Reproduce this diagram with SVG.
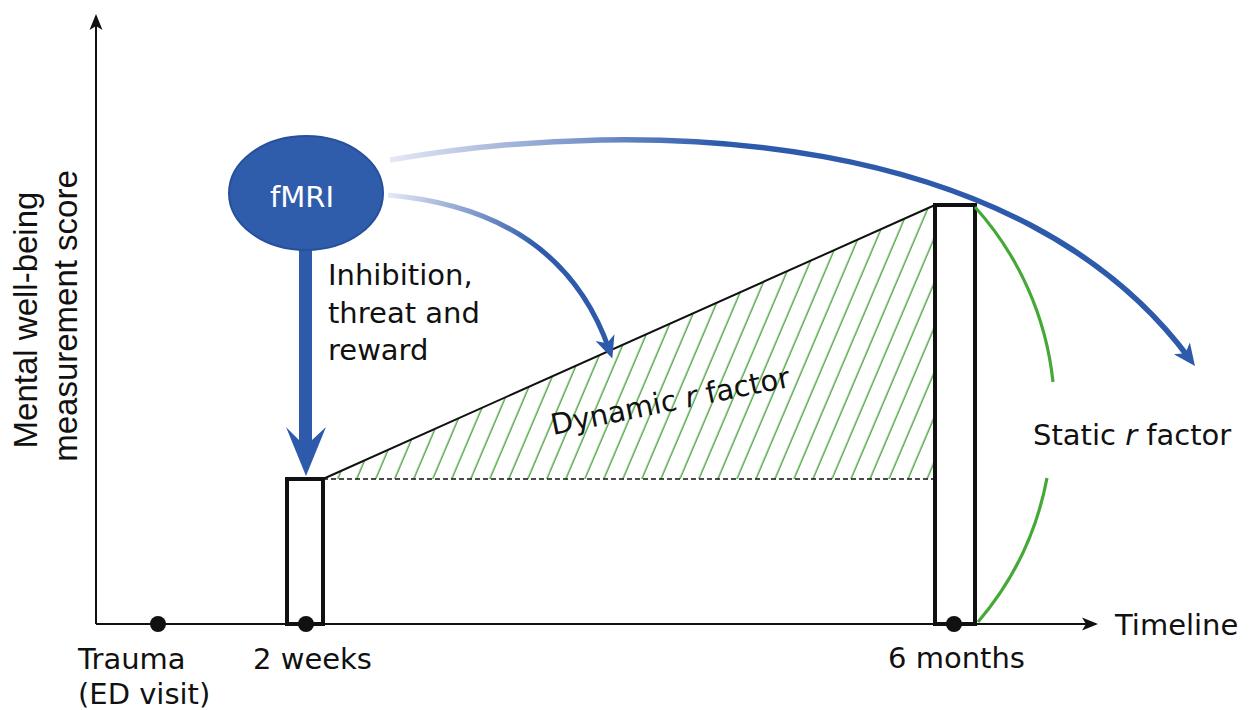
<svg xmlns="http://www.w3.org/2000/svg" width="1250" height="710" viewBox="0 0 1250 710">
<style>
.ax{stroke:#111;stroke-width:2;fill:none}
.bar{stroke:#111;stroke-width:4;fill:#fff}
.lbl{font-family:"DejaVu Sans",sans-serif;font-size:29px;fill:#111}
.ylbl{font-family:"Liberation Sans",Arial,sans-serif;font-size:33px;fill:#111}
.green{stroke:#45a837;stroke-width:3.2;fill:none}
.dot{fill:#111}
</style>
<defs>
<marker id="axhead" markerUnits="userSpaceOnUse" markerWidth="20" markerHeight="16" viewBox="-16 -8 20 16" refX="0" refY="0" orient="auto">
<path d="M2,0 L-14,-6.5 L-10,0 L-14,6.5 Z" fill="#111"/>
</marker>
<marker id="bhead" markerUnits="userSpaceOnUse" markerWidth="40" markerHeight="30" viewBox="-20 -15 40 30" refX="0" refY="0" orient="auto">
<path d="M10,0 L-12,-10 L-6,0 L-12,10 Z" fill="#2e5aab"/>
</marker>
<linearGradient id="g1" gradientUnits="userSpaceOnUse" x1="390" y1="0" x2="720" y2="0">
<stop offset="0" stop-color="#e6e9f5"/>
<stop offset="1" stop-color="#2e5aab"/>
</linearGradient>
<linearGradient id="g2" gradientUnits="userSpaceOnUse" x1="388" y1="195" x2="540" y2="240">
<stop offset="0" stop-color="#e6e9f5"/>
<stop offset="1" stop-color="#2e5aab"/>
</linearGradient>
<pattern id="hatch" patternUnits="userSpaceOnUse" width="17.5" height="40" patternTransform="rotate(23)">
<line x1="8" y1="-1" x2="8" y2="41" stroke="#3f9c33" stroke-width="1.3"/>
</pattern>
<clipPath id="tri"><polygon points="323,479 935,205 935,479"/></clipPath>
</defs>

<g id="axes">
<line class="ax" x1="96" y1="624" x2="96" y2="16" marker-end="url(#axhead)"/>
<line class="ax" x1="96" y1="624" x2="1096" y2="624" marker-end="url(#axhead)"/>
</g>

<g id="dynamic-area">
<rect x="323" y="200" width="615" height="280" fill="url(#hatch)" clip-path="url(#tri)"/>
<line x1="323" y1="479" x2="933" y2="479" stroke="#111" stroke-width="1.6" stroke-dasharray="5 3"/>
<line x1="323" y1="479" x2="935" y2="205" stroke="#111" stroke-width="2"/>
</g>

<g id="bar-2weeks"><rect class="bar" x="287" y="479" width="36" height="145"/></g>
<g id="bar-6months"><rect class="bar" x="935" y="205" width="40" height="419"/></g>

<g id="static-arc">
<path class="green" d="M975,207 A310,310 0 0 1 1053,382"/>
<path class="green" d="M1047,478 A310,310 0 0 1 978,622"/>
</g>

<g id="timepoints">
<circle class="dot" cx="158" cy="624" r="8"/>
<circle class="dot" cx="306" cy="624" r="8"/>
<circle class="dot" cx="954" cy="624" r="8"/>
</g>

<g id="connectors">
<path d="M390,160 C650,115 1020,130 1189,358" stroke="url(#g1)" stroke-width="5.5" fill="none" marker-end="url(#bhead)"/>
<path d="M388,195 Q560,210 609,349" stroke="url(#g2)" stroke-width="5" fill="none" marker-end="url(#bhead)"/>
<polygon points="299,248 312,248 312,440 326,427 306,476 286,427 299,440" fill="#2e5aab"/>
</g>

<g id="fmri">
<ellipse cx="306" cy="193" rx="77" ry="57" fill="#2f5cab" stroke="#27509b" stroke-width="2"/>
<text x="302" y="207" text-anchor="middle" font-family="DejaVu Sans, sans-serif" font-size="29" fill="#fff">fMRI</text>
</g>

<g id="labels">
<text class="lbl" x="328" y="285">Inhibition,</text>
<text class="lbl" x="328" y="323">threat and</text>
<text class="lbl" x="328" y="360">reward</text>
<text class="lbl" transform="translate(553,435) rotate(-11.5)">Dynamic <tspan font-style="italic">r</tspan> factor</text>
<text class="lbl" x="1033" y="445">Static <tspan font-style="italic">r</tspan> factor</text>
<text class="lbl" x="1115" y="635">Timeline</text>
<text class="lbl" x="888" y="668">6 months</text>
<text class="lbl" x="253" y="669">2 weeks</text>
<text class="lbl" x="78" y="669" font-size="28">Trauma</text>
<text class="lbl" x="78" y="704" font-size="28">(ED visit)</text>
<text class="ylbl" text-anchor="middle" transform="translate(37,320) rotate(-90)">Mental well-being</text>
<text class="ylbl" text-anchor="middle" transform="translate(77,316) rotate(-90)">measurement score</text>
</g>
</svg>
